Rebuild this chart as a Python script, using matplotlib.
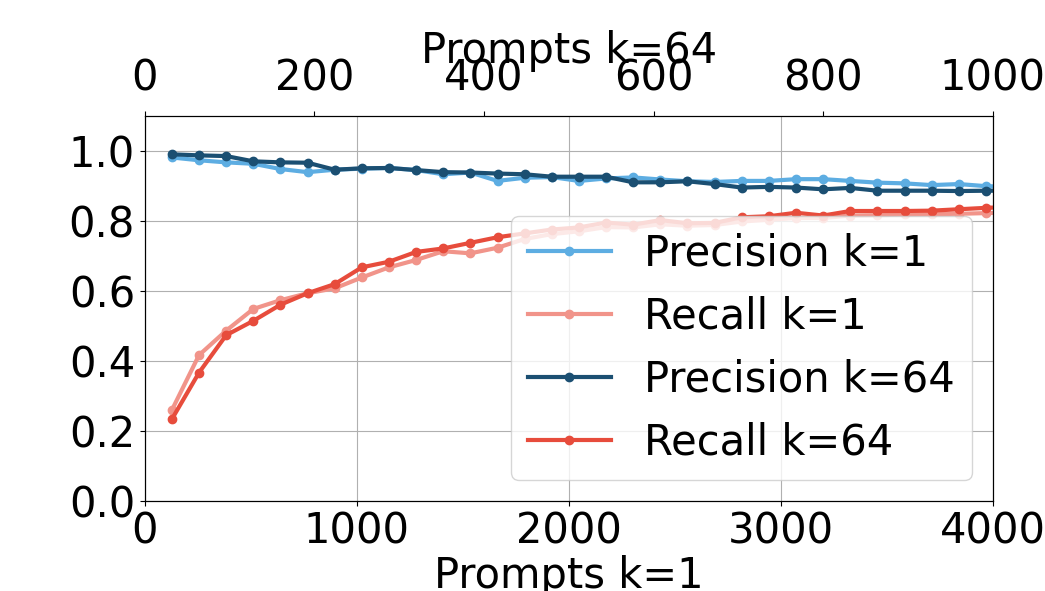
import numpy as np
import matplotlib
matplotlib.use("Agg")
import matplotlib.pyplot as plt

# prompts (x) for both runs
prompts_k1 = [128 * (i + 1) for i in range(32)]
prompts_k64 = [32 * (i + 1) for i in range(32)]

precision_k1 = [0.981, 0.973, 0.967, 0.963, 0.948, 0.939, 0.946, 0.949, 0.951, 0.945,
                0.933, 0.938, 0.914, 0.923, 0.925, 0.914, 0.921, 0.924, 0.918, 0.913,
                0.911, 0.914, 0.914, 0.919, 0.919, 0.914, 0.909, 0.907, 0.902, 0.905,
                0.899, 0.897]
recall_k1 = [0.259, 0.416, 0.486, 0.548, 0.573, 0.593, 0.607, 0.638, 0.667, 0.688,
             0.713, 0.707, 0.723, 0.748, 0.762, 0.770, 0.782, 0.781, 0.790, 0.786,
             0.788, 0.798, 0.803, 0.808, 0.808, 0.815, 0.816, 0.818, 0.819, 0.820,
             0.822, 0.824]
precision_k64 = [0.990, 0.987, 0.985, 0.970, 0.967, 0.966, 0.946, 0.950, 0.951, 0.945,
                 0.939, 0.938, 0.935, 0.933, 0.926, 0.926, 0.926, 0.910, 0.910, 0.913,
                 0.905, 0.895, 0.897, 0.895, 0.890, 0.894, 0.886, 0.886, 0.886, 0.885,
                 0.886, 0.886]
recall_k64 = [0.233, 0.366, 0.473, 0.514, 0.560, 0.593, 0.619, 0.667, 0.683, 0.711,
              0.721, 0.737, 0.753, 0.764, 0.775, 0.781, 0.795, 0.789, 0.802, 0.793,
              0.794, 0.810, 0.813, 0.823, 0.815, 0.828, 0.828, 0.828, 0.829, 0.833,
              0.837, 0.840]

plt.rcParams['font.size'] = 30

fig = plt.figure(figsize=(10.45, 5.91), dpi=100)
ax = fig.add_axes([0.1385, 0.1528, 0.8115, 0.6512])

lw, ms = 3, 6
l1, = ax.plot(prompts_k1, precision_k1, '-o', color='#5DADE2', lw=lw, ms=ms, label='Precision k=1')
l2, = ax.plot(prompts_k1, recall_k1, '-o', color='#F1948A', lw=lw, ms=ms, label='Recall k=1')
ax.set_xlim(0, 4000)
ax.set_ylim(0, 1.1)
ax.set_xticks([0, 1000, 2000, 3000, 4000])
ax.set_yticks([0.0, 0.2, 0.4, 0.6, 0.8, 1.0])
ax.set_xlabel('Prompts k=1', labelpad=2)
ax.grid(True)

ax2 = ax.twiny()
l3, = ax2.plot(prompts_k64, precision_k64, '-o', color='#1B4F72', lw=lw, ms=ms, label='Precision k=64')
l4, = ax2.plot(prompts_k64, recall_k64, '-o', color='#E74C3C', lw=lw, ms=ms, label='Recall k=64')
ax2.set_xlim(0, 1000)
ax2.set_xticks([0, 200, 400, 600, 800, 1000])
ax2.tick_params(axis='x', pad=8)
ax2.set_xlabel('Prompts k=64', labelpad=-4)

ax2.legend(handles=[l1, l2, l3, l4], loc='lower right', fontsize=30)

fig.savefig('out.png', dpi=100)
